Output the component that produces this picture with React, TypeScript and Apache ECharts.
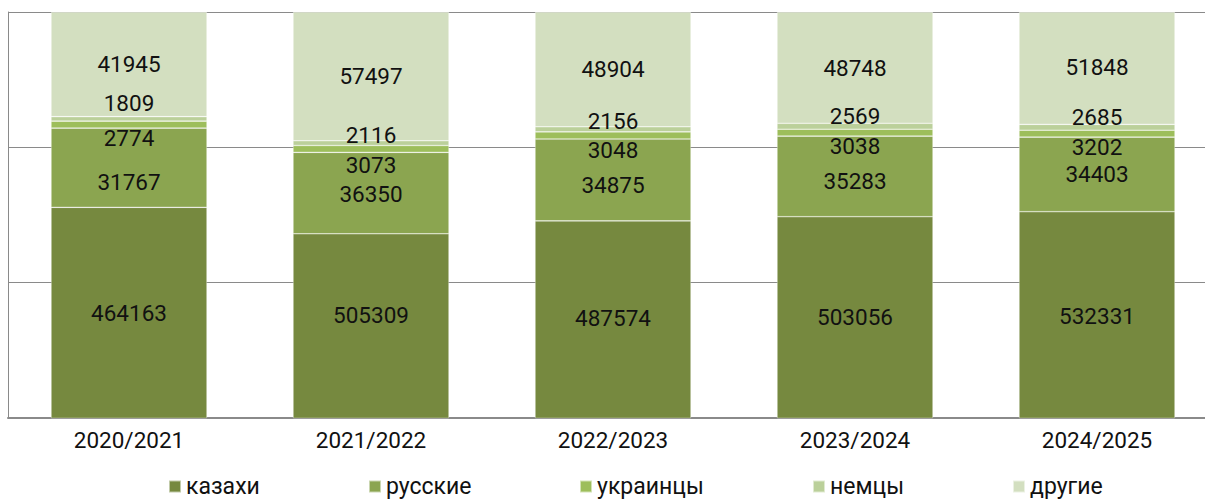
import React, { useEffect, useRef } from "react";
import * as echarts from "echarts";

const categories = ["2020/2021", "2021/2022", "2022/2023", "2023/2024", "2024/2025"];
const seriesNames = ["казахи", "русские", "украинцы", "немцы", "другие"];
const kazakhs = [464163, 505309, 487574, 503056, 532331];
const russians = [31767, 36350, 34875, 35283, 34403];
const ukrainians = [2774, 3073, 3048, 3038, 3202];
const germans = [1809, 2116, 2156, 2569, 2685];
const others = [41945, 57497, 48904, 48748, 51848];

const colors = ["#76893f", "#8ba550", "#9dbe5b", "#bbd09a", "#d3dfc0"];
// vertical nudges of the value labels (px), as placed in the original
const labelShift = [
  [0, -10.6, -2, 0, 1],
  [14.6, 0.6, 4.7, 5, 0],
  [13, 15.7, 14.8, 13.1, 13],
  [-15.6, -8, -8, -10.6, -10.3],
  [0, 0, 0, 0, -1],
];
const legendLeft = [168, 368, 579, 812, 1012];

const FONT = "Roboto";

export default function App() {
  const ref = useRef<HTMLDivElement>(null);
  useEffect(() => {
    if (!ref.current) return;
    const chart = echarts.init(ref.current, undefined, { renderer: "svg" });
    const all = [kazakhs, russians, ukrainians, germans, others];
    const totals = categories.map((_, i) => all.reduce((s, arr) => s + arr[i], 0));
    const series = all.map((arr, si) => ({
      name: seriesNames[si],
      type: "bar",
      stack: "total",
      barWidth: 156,
      clip: true,
      itemStyle: { color: colors[si], borderColor: "rgba(255,255,255,0.55)", borderWidth: 0.6 },
      label: {
        show: true,
        position: "inside",
        color: "#111",
        fontFamily: FONT,
        fontSize: 22.5,
        formatter: (p: any) => String(arr[p.dataIndex]),
      },
      data: arr.map((v, i) => ({
        value: (v / totals[i]) * 100,
        label: { offset: [0, labelShift[si][i]] },
      })),
    }));
    const legends = seriesNames.map((n, i) => ({
      data: [n],
      left: legendLeft[i],
      top: 475,
      icon: "rect",
      itemWidth: 12,
      itemHeight: 12,
      itemGap: 0,
      padding: 0,
      textStyle: { fontFamily: FONT, fontSize: 23, color: "#111" },
    }));
    chart.setOption({
      animation: false,
      color: colors,
      grid: { left: 8, top: 12, width: 1210, height: 406, containLabel: false },
      legend: legends,
      xAxis: {
        type: "category",
        data: categories,
        axisTick: { show: false },
        axisLine: { lineStyle: { color: "#8a8a8a", width: 2 } },
        axisLabel: { color: "#111", fontFamily: FONT, fontSize: 22.5, margin: 10 },
      },
      yAxis: {
        type: "value",
        min: 70,
        max: 100,
        interval: 10,
        axisLabel: { show: false },
        axisTick: { show: false },
        axisLine: { show: true, lineStyle: { color: "#8a8a8a", width: 1 } },
        splitLine: { lineStyle: { color: "#8a8a8a", width: 1 } },
      },
      series,
    });
    return () => chart.dispose();
  }, []);
  return (
    <div
      style={{
        position: "fixed",
        left: 0,
        top: 0,
        width: 1205,
        height: 501,
        overflow: "hidden",
        background: "#fff",
      }}
    >
      <div ref={ref} style={{ width: 1240, height: 501 }} />
    </div>
  );
}
